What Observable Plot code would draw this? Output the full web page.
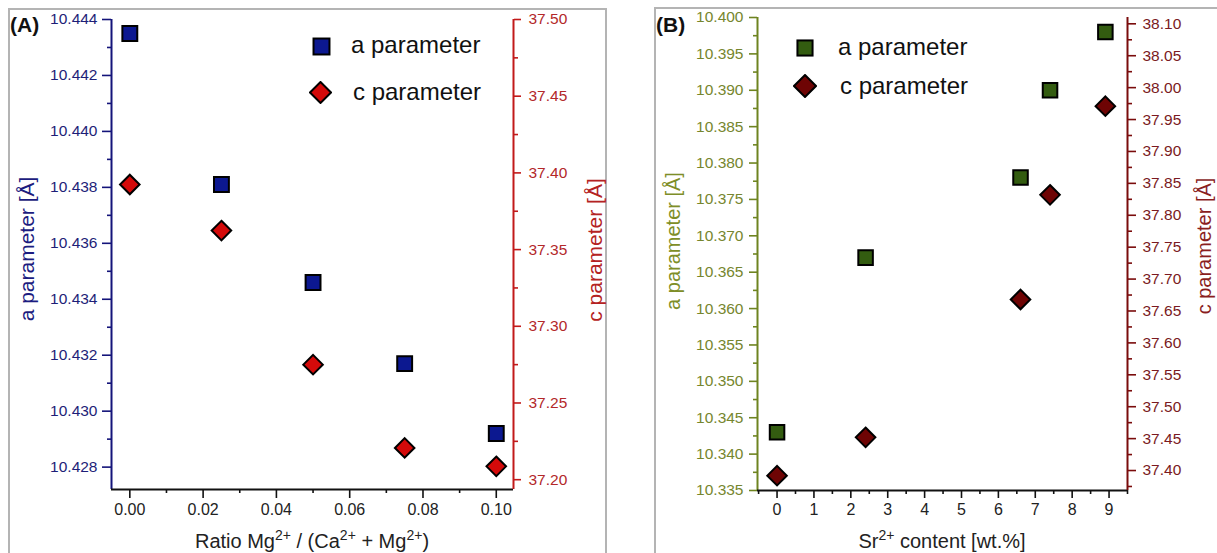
<!DOCTYPE html>
<html><head><meta charset="utf-8">
<script src="https://cdn.jsdelivr.net/npm/d3@7"></script>
<script src="https://cdn.jsdelivr.net/npm/@observablehq/plot@0.6"></script>
<style>
body{margin:0;background:#fff;font-family:"Liberation Sans",Arial,sans-serif;}
#root{position:relative;width:1217px;height:553px;overflow:hidden;background:#fff;}
.frame{position:absolute;border:2px solid #b4b4b4;box-sizing:border-box;}
.lbl{position:absolute;white-space:nowrap;line-height:1;}
.lbl sup{font-size:0.7em;line-height:0;vertical-align:0.55em;}
.rot{transform:translate(-50%,-50%) rotate(-90deg);}
.hc{transform:translateX(-50%);}
.leg{position:absolute;display:flex;align-items:center;}
</style></head><body><div id="root"></div>
<script>
// ---------- data ----------
const ratioMg  = [0, 0.025, 0.05, 0.075, 0.10];
const aParamA  = [10.4435, 10.4381, 10.4346, 10.4317, 10.4292];
const cParamA  = [37.3924, 37.3624, 37.2750, 37.2207, 37.2087];

const srContent = [0, 2.4, 6.6, 7.4, 8.9];
const aParamB   = [10.343, 10.367, 10.378, 10.390, 10.398];
const cParamB   = [37.392, 37.452, 37.668, 37.832, 37.971];

// tick labels
const xTicksA = [0, 0.02, 0.04, 0.06, 0.08, 0.10];
const aTicksA = [10.428, 10.430, 10.432, 10.434, 10.436, 10.438, 10.440, 10.442, 10.444];
const cTicksA = [37.20, 37.25, 37.30, 37.35, 37.40, 37.45, 37.50];
const xTicksB = [0, 1, 2, 3, 4, 5, 6, 7, 8, 9];
const aTicksB = [10.335, 10.340, 10.345, 10.350, 10.355, 10.360, 10.365, 10.370, 10.375, 10.380, 10.385, 10.390, 10.395, 10.400];
const cTicksB = [37.40, 37.45, 37.50, 37.55, 37.60, 37.65, 37.70, 37.75, 37.80, 37.85, 37.90, 37.95, 38.00, 38.05, 38.10];

// axis domains
const xDomA = [-0.005, 0.1047];
const aDomA = [10.4272, 10.4440];
const cDomA = [37.1936, 37.50];
const xDomB = [-0.53, 9.5];
const aDomB = [10.335, 10.400];
const cDomB = [37.3687, 38.1099];

// ---------- helpers ----------
const root = document.getElementById("root");
const FONT = "'Liberation Sans', Arial, sans-serif";
const mids = t => d3.pairs(t).map(([p, q]) => (p + q) / 2);
const withEdges = (t, dom) => {
  const m = mids(t), s = t[1] - t[0];
  const out = [t[0] - s / 2, ...m, t[t.length - 1] + s / 2];
  return out.filter(v => v >= Math.min(...dom) - 1e-9 && v <= Math.max(...dom) + 1e-9);
};

function layer(left, opts) {
  const svg = Plot.plot({
    width: opts.width, height: 553,
    marginLeft: opts.ml, marginRight: opts.mr, marginTop: opts.mt, marginBottom: opts.mb,
    x: {domain: opts.xDom, axis: null},
    y: {domain: opts.yDom, axis: null},
    style: {background: "none", fontFamily: FONT, fontSize: "15.5px", overflow: "visible"},
    marks: opts.marks
  });
  svg.style.position = "absolute";
  svg.style.left = left + "px";
  svg.style.top = "0px";
  svg.style.maxWidth = "none";
  root.append(svg);
}

function html(tag, cls, style, inner) {
  const el = document.createElement(tag);
  el.className = cls;
  Object.assign(el.style, style);
  el.innerHTML = inner;
  root.append(el);
  return el;
}

function symbolSvg(kind, fill, size) {
  const h = size / 2;
  const shape = kind === "square"
    ? `<rect x="${h - size * 0.42}" y="${h - size * 0.42}" width="${size * 0.84}" height="${size * 0.84}" fill="${fill}" stroke="#000" stroke-width="2"/>`
    : `<path d="M${h},1L${size - 1},${h}L${h},${size - 1}L1,${h}Z" fill="${fill}" stroke="#000" stroke-width="2"/>`;
  return `<svg width="${size}" height="${size}" style="display:block">${shape}</svg>`;
}

// ---------- frames ----------
html("div", "frame", {left: "8px", top: "8px", width: "599px", height: "560px"}, "");
html("div", "frame", {left: "654px", top: "7px", width: "580px", height: "560px"}, "");

// ---------- panel A ----------
const navy = "#14147a", navyTxt = "#1e1e78";
const redAx = "#c21a1a", redTxt = "#b3282a";
const rowsA = ratioMg.map((x, i) => ({x, a: aParamA[i], c: cParamA[i]}));
const geoA = {width: 607, ml: 111, mr: 94, mt: 19, mb: 64, xDom: xDomA};

layer(0, {...geoA, yDom: aDomA, marks: [
  Plot.axisY({ticks: aTicksA, tickFormat: d3.format(".3f"), tickSize: 9, tickPadding: 5, color: navyTxt, stroke: navy, strokeWidth: 1.6, label: null}),
  Plot.axisY({ticks: mids(aTicksA), tickSize: 4, tickFormat: () => "", stroke: navy, strokeWidth: 1.6, label: null}),
  Plot.axisX({ticks: xTicksA, tickFormat: d3.format(".2f"), tickSize: 9, tickPadding: 5, fontSize: 16, color: "#222", stroke: "#111", strokeWidth: 1.6, label: null}),
  Plot.axisX({ticks: mids(xTicksA), tickSize: 4, tickFormat: () => "", stroke: "#111", strokeWidth: 1.6, label: null}),
  Plot.ruleX([xDomA[0]], {stroke: navy, strokeWidth: 2}),
  Plot.ruleY([aDomA[0]], {stroke: "#111", strokeWidth: 2}),
  Plot.dot(rowsA, {x: "x", y: "a", symbol: "square", r: 8.4, fill: "#0c1890", stroke: "#000", strokeWidth: 2})
]});

layer(0, {...geoA, yDom: cDomA, marks: [
  Plot.axisY({anchor: "right", ticks: cTicksA, tickFormat: d3.format(".2f"), tickSize: 7, tickPadding: 8, color: redTxt, stroke: redAx, strokeWidth: 1.6, label: null}),
  Plot.axisY({anchor: "right", ticks: mids(cTicksA), tickSize: 4, tickFormat: () => "", stroke: redAx, strokeWidth: 1.6, label: null}),
  Plot.ruleX([xDomA[1]], {stroke: redAx, strokeWidth: 2}),
  Plot.dot(rowsA, {x: "x", y: "c", symbol: "diamond2", r: 8.8, fill: "#d40a0a", stroke: "#000", strokeWidth: 2})
]});

html("div", "lbl", {left: "10px", top: "14px", fontSize: "21px", fontWeight: "bold", color: "#111"}, "(A)");
html("div", "lbl rot", {left: "26px", top: "249px", fontSize: "21px", color: "#1c1c80"}, "a parameter [Å]");
html("div", "lbl rot", {left: "594px", top: "250px", fontSize: "21px", color: "#b42222"}, "c parameter [Å]");
html("div", "lbl hc", {left: "312px", top: "531px", fontSize: "20px", color: "#222"}, "Ratio Mg<sup>2+</sup> / (Ca<sup>2+</sup> + Mg<sup>2+</sup>)");

html("div", "leg", {left: "312px", top: "37px"}, symbolSvg("square", "#0c1890", 19));
html("div", "lbl", {left: "351px", top: "33px", fontSize: "24px", color: "#111"}, "a parameter");
html("div", "leg", {left: "309px", top: "81px"}, symbolSvg("diamond", "#d40a0a", 23));
html("div", "lbl", {left: "353px", top: "80px", fontSize: "24px", color: "#111"}, "c parameter");

// ---------- panel B ----------
const olive = "#6e8420", oliveTxt = "#76862e";
const dred = "#7a0c0c", dredTxt = "#7a1a22";
const rowsB = srContent.map((x, i) => ({x, a: aParamB[i], c: cParamB[i]}));
const geoB = {width: 567, ml: 107, mr: 90, mt: 17, mb: 63, xDom: xDomB};

layer(650, {...geoB, yDom: aDomB, marks: [
  Plot.axisY({ticks: aTicksB, tickFormat: d3.format(".3f"), tickSize: 8, tickPadding: 6, color: oliveTxt, stroke: olive, strokeWidth: 1.6, label: null}),
  Plot.axisY({ticks: mids(aTicksB), tickSize: 4, tickFormat: () => "", stroke: olive, strokeWidth: 1.6, label: null}),
  Plot.axisX({ticks: xTicksB, tickFormat: d3.format("d"), tickSize: 8, tickPadding: 5, fontSize: 16, color: "#222", stroke: "#111", strokeWidth: 1.6, label: null}),
  Plot.axisX({ticks: withEdges(xTicksB, xDomB), tickSize: 4, tickFormat: () => "", stroke: "#111", strokeWidth: 1.6, label: null}),
  Plot.ruleX([xDomB[0]], {stroke: olive, strokeWidth: 2}),
  Plot.ruleY([aDomB[0]], {stroke: "#111", strokeWidth: 2}),
  Plot.dot(rowsB, {x: "x", y: "a", symbol: "square", r: 8.2, fill: "#335c10", stroke: "#000", strokeWidth: 2})
]});

layer(650, {...geoB, yDom: cDomB, marks: [
  Plot.axisY({anchor: "right", ticks: cTicksB, tickFormat: d3.format(".2f"), tickSize: 8, tickPadding: 7, color: dredTxt, stroke: dred, strokeWidth: 1.6, label: null}),
  Plot.axisY({anchor: "right", ticks: withEdges(cTicksB, cDomB), tickSize: 4, tickFormat: () => "", stroke: dred, strokeWidth: 1.6, label: null}),
  Plot.ruleX([xDomB[1]], {stroke: dred, strokeWidth: 2}),
  Plot.dot(rowsB, {x: "x", y: "c", symbol: "diamond2", r: 8.8, fill: "#6e0404", stroke: "#000", strokeWidth: 2})
]});

html("div", "lbl", {left: "656px", top: "14px", fontSize: "21px", fontWeight: "bold", color: "#111"}, "(B)");
html("div", "lbl rot", {left: "673px", top: "241px", fontSize: "20px", color: "#7e8e28"}, "a parameter [Å]");
html("div", "lbl rot", {left: "1204px", top: "246px", fontSize: "20px", color: "#8a1e1e"}, "c parameter [Å]");
html("div", "lbl hc", {left: "942px", top: "531px", fontSize: "20px", color: "#222"}, "Sr<sup>2+</sup> content [wt.%]");

html("div", "leg", {left: "796px", top: "39px"}, symbolSvg("square", "#335c10", 18));
html("div", "lbl", {left: "838px", top: "35px", fontSize: "24px", color: "#111"}, "a parameter");
html("div", "leg", {left: "793px", top: "74px"}, symbolSvg("diamond", "#6e0404", 24));
html("div", "lbl", {left: "840px", top: "74px", fontSize: "24px", color: "#111"}, "c parameter");
</script></body></html>
